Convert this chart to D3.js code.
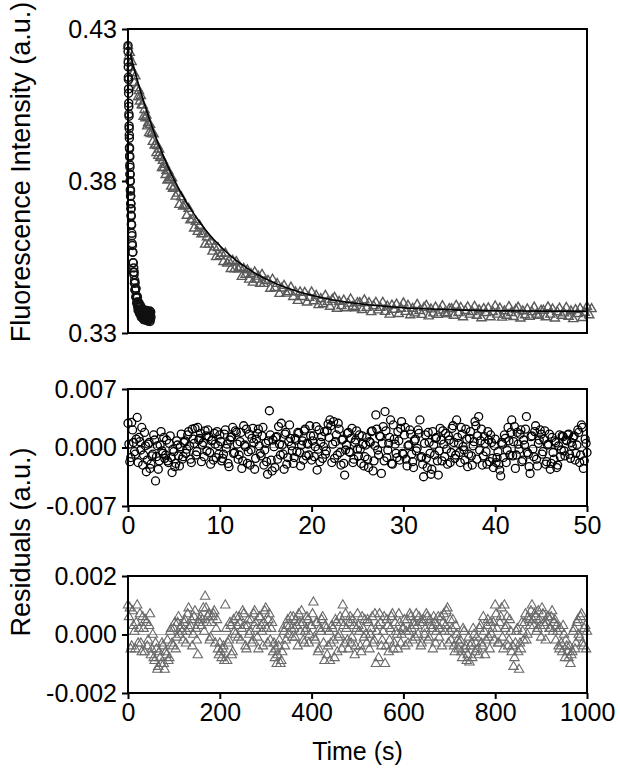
<!DOCTYPE html>
<html lang="en">
<head>
<meta charset="utf-8">
<title>Fluorescence decay with residuals</title>
<script src="https://d3js.org/d3.v7.min.js"></script>
<style>
  body { margin: 0; background: #fff; }
  svg text { font-family: "Liberation Sans", Arial, Helvetica, sans-serif; fill: #000; }
</style>
</head>
<body>
<div id="chart"></div>
<script>
// ---- values ----
// fast trace (circles), time in s
var fastTime = [0,0.2,0.4,0.6,0.8,1,1.2,1.4,1.6,1.8,2,2.2,2.4,2.6,2.8,3,3.2,3.4,3.6,3.8,
  4,4.2,4.4,4.6,4.8,5,5.2,5.4,5.6,5.8,6,6.2,6.4,6.6,6.8,7,7.4,7.8,8.2,8.6,9,9.5,10,
  10.5,11,11.5,12,12.5,13,13.5,14,14.5,15,15.5,16,16.5,17,17.5,18,18.5,19,19.5,20,
  20.5,21,21.5,22,22.5,23,23.5,24,24.5,25,25.5,26,26.5,27,27.5,28,28.5,29,29.5,30,
  30.5,31,31.5,32,32.5,33,33.5,34,34.5,35,35.5,36,36.5,37,37.5,38,38.5,39,39.5,40,
  40.5,41,41.5,42,42.5,43,43.5,44,44.5,45,45.5,46,46.5,47,47.5,48,48.5,49,49.5,50];
var fastSignal = [0.4245,0.4226,0.4191,0.4175,0.4141,0.4134,0.4103,0.4089,0.4056,0.4045,
  0.4020,0.4013,0.3981,0.3973,0.3951,0.3941,0.3910,0.3906,0.3883,0.3879,
  0.3853,0.3845,0.3823,0.3821,0.3801,0.3799,0.3772,0.3767,0.3751,0.3750,
  0.3725,0.3726,0.3709,0.3709,0.3687,0.3684,0.3658,0.3655,0.3628,0.3620,0.3594,0.3588,0.3566,
  0.3566,0.3531,0.3531,0.3500,0.3514,0.3491,0.3500,0.3464,0.3473,0.3442,
  0.3465,0.3441,0.3447,0.3419,0.3446,0.3416,0.3420,0.3398,0.3421,0.3402,
  0.3417,0.3387,0.3401,0.3375,0.3399,0.3386,0.3400,0.3374,0.3385,0.3365,
  0.3390,0.3371,0.3392,0.3361,0.3373,0.3362,0.3385,0.3352,0.3375,0.3364,
  0.3377,0.3351,0.3370,0.3356,0.3379,0.3352,0.3364,0.3344,0.3370,0.3356,
  0.3373,0.3348,0.3364,0.3343,0.3369,0.3357,0.3372,0.3345,0.3364,0.3349,
  0.3374,0.3353,0.3365,0.3342,0.3369,0.3350,0.3359,0.3339,0.3371,0.3346,
  0.3357,0.3343,0.3365,0.3350,0.3372,0.3338,0.3361,0.3345,0.3369,0.3353];

// slow trace (triangles)
var slowTime = [0,2,4,6,8,10,12,14,16,18,20,22,24,26,28,30,32,34,36,38,40,42,44,46,48,
  50,52,54,56,58,60,62,64,66,68,70,72,74,76,78,80,82,84,86,88,90,92,94,96,98,100,
  104,108,112,116,120,124,128,132,136,140,144,148,152,156,160,164,168,172,176,180,
  184,188,192,196,200,204,208,212,216,220,224,228,232,236,240,244,248,252,256,260,
  264,268,272,276,280,284,288,292,296,300,
  305,310,315,320,325,330,335,340,345,350,355,360,365,370,375,380,385,390,395,400,
  405,410,415,420,425,430,435,440,445,450,455,460,465,470,475,480,485,490,495,500,
  505,510,515,520,525,530,535,540,545,550,555,560,565,570,575,580,585,590,595,600,
  605,610,615,620,625,630,635,640,645,650,655,660,665,670,675,680,685,690,695,700,
  705,710,715,720,725,730,735,740,745,750,755,760,765,770,775,780,785,790,795,800,
  805,810,815,820,825,830,835,840,845,850,855,860,865,870,875,880,885,890,895,900,
  905,910,915,920,925,930,935,940,945,950,955,960,965,970,975,980,985,990,995,1000,
  1005,1010];
var slowSignal = [0.4244,0.4211,0.4222,0.4174,0.4192,0.4155,0.4156,0.4123,0.4145,0.4106,
  0.4106,0.4076,0.4096,0.4062,0.4080,0.4050,0.4049,0.4012,0.4034,0.4007,
  0.4016,0.3980,0.3991,0.3958,0.3985,0.3955,0.3959,0.3929,0.3954,0.3917,
  0.3920,0.3892,0.3915,0.3883,0.3904,0.3876,0.3878,0.3843,0.3867,0.3843,
  0.3854,0.3820,0.3834,0.3802,0.3832,0.3804,0.3811,0.3782,0.3809,0.3775,0.3779,
  0.3749,0.3759,0.3722,0.3747,0.3716,0.3718,0.3686,0.3709,0.3671,0.3673,
  0.3644,0.3666,0.3633,0.3653,0.3625,0.3626,0.3591,0.3615,0.3591,0.3601,
  0.3568,0.3582,0.3550,0.3580,0.3553,0.3561,0.3534,0.3562,0.3529,0.3536,
  0.3511,0.3538,0.3510,0.3534,0.3510,0.3515,0.3485,0.3512,0.3492,0.3507,
  0.3476,0.3494,0.3466,0.3500,0.3476,0.3486,0.3462,0.3492,0.3462,0.3471,
  0.3472,0.3446,0.3476,0.3449,0.3462,0.3429,0.3447,0.3456,0.3430,0.3435,
  0.3450,0.3419,0.3434,0.3406,0.3434,0.3419,0.3433,0.3401,0.3416,0.3434,
  0.3405,0.3423,0.3392,0.3412,0.3395,0.3423,0.3402,0.3387,0.3410,0.3416,
  0.3380,0.3403,0.3389,0.3407,0.3382,0.3397,0.3411,0.3387,0.3382,0.3399,
  0.3399,0.3376,0.3408,0.3383,0.3399,0.3369,0.3389,0.3400,0.3375,0.3383,
  0.3400,0.3370,0.3388,0.3361,0.3391,0.3377,0.3394,0.3363,0.3380,0.3398,
  0.3370,0.3390,0.3359,0.3380,0.3365,0.3393,0.3373,0.3360,0.3383,0.3390,
  0.3355,0.3378,0.3365,0.3384,0.3360,0.3374,0.3389,0.3366,0.3362,0.3379,
  0.3379,0.3357,0.3390,0.3366,0.3383,0.3352,0.3373,0.3385,0.3361,0.3369,
  0.3387,0.3357,0.3375,0.3349,0.3379,0.3366,0.3382,0.3352,0.3369,0.3388,
  0.3361,0.3381,0.3351,0.3372,0.3357,0.3386,0.3366,0.3353,0.3377,0.3384,
  0.3348,0.3372,0.3359,0.3378,0.3354,0.3369,0.3384,0.3361,0.3357,0.3374,
  0.3374,0.3352,0.3385,0.3361,0.3378,0.3348,0.3369,0.3381,0.3357,0.3365,
  0.3383,0.3354,0.3372,0.3346,0.3376,0.3363,0.3380,0.3350,0.3367,0.3386,
  0.3359,0.3379];

// fitted curve through the slow trace
var fitTime = [5,10,20,30,40,50,60,70,80,90,100,120,140,160,180,200,225,250,275,300,
  350,400,450,500,600,700,800,900,1000];
var fitSignal = [0.4218,0.4189,0.4133,0.4082,0.4034,0.3989,0.3947,0.3908,0.3872,0.3838,
  0.3806,0.3749,0.3700,0.3657,0.3619,0.3587,0.3552,0.3523,0.3498,0.3478,
  0.3446,0.3424,0.3408,0.3397,0.3383,0.3377,0.3373,0.3372,0.3371];

// residuals of the fast fit, in units of 1e-3 a.u. (even samples, then odd samples)
var fastResidTime = [0,0.2,0.4,0.6,0.8,1,1.2,1.4,1.6,1.8,2,2.2,2.4,2.6,2.8,3,3.2,3.4,3.6,3.8,
  4,4.2,4.4,4.6,4.8,5,5.2,5.4,5.6,5.8,6,6.2,6.4,6.6,6.8,7,7.2,7.4,7.6,7.8,
  8,8.2,8.4,8.6,8.8,9,9.2,9.4,9.6,9.8,10,10.2,10.4,10.6,10.8,11,11.2,11.4,11.6,11.8,
  12,12.2,12.4,12.6,12.8,13,13.2,13.4,13.6,13.8,14,14.2,14.4,14.6,14.8,15,15.2,15.4,15.6,15.8,
  16,16.2,16.4,16.6,16.8,17,17.2,17.4,17.6,17.8,18,18.2,18.4,18.6,18.8,19,19.2,19.4,19.6,19.8,
  20,20.2,20.4,20.6,20.8,21,21.2,21.4,21.6,21.8,22,22.2,22.4,22.6,22.8,23,23.2,23.4,23.6,23.8,
  24,24.2,24.4,24.6,24.8,25,25.2,25.4,25.6,25.8,26,26.2,26.4,26.6,26.8,27,27.2,27.4,27.6,27.8,
  28,28.2,28.4,28.6,28.8,29,29.2,29.4,29.6,29.8,30,30.2,30.4,30.6,30.8,31,31.2,31.4,31.6,31.8,
  32,32.2,32.4,32.6,32.8,33,33.2,33.4,33.6,33.8,34,34.2,34.4,34.6,34.8,35,35.2,35.4,35.6,35.8,
  36,36.2,36.4,36.6,36.8,37,37.2,37.4,37.6,37.8,38,38.2,38.4,38.6,38.8,39,39.2,39.4,39.6,39.8,
  40,40.2,40.4,40.6,40.8,41,41.2,41.4,41.6,41.8,42,42.2,42.4,42.6,42.8,43,43.2,43.4,43.6,43.8,
  44,44.2,44.4,44.6,44.8,45,45.2,45.4,45.6,45.8,46,46.2,46.4,46.6,46.8,47,47.2,47.4,47.6,47.8,
  48,48.2,48.4,48.6,48.8,49,49.2,49.4,49.6,49.8,50,
  0.1,0.3,0.5,0.7,0.9,1.1,1.3,1.5,1.7,1.9,2.1,2.3,2.5,2.7,2.9,3.1,3.3,3.5,3.7,3.9,
  4.1,4.3,4.5,4.7,4.9,5.1,5.3,5.5,5.7,5.9,6.1,6.3,6.5,6.7,6.9,7.1,7.3,7.5,7.7,7.9,
  8.1,8.3,8.5,8.7,8.9,9.1,9.3,9.5,9.7,9.9,10.1,10.3,10.5,10.7,10.9,11.1,11.3,11.5,11.7,11.9,
  12.1,12.3,12.5,12.7,12.9,13.1,13.3,13.5,13.7,13.9,14.1,14.3,14.5,14.7,14.9,15.1,15.3,15.5,15.7,15.9,
  16.1,16.3,16.5,16.7,16.9,17.1,17.3,17.5,17.7,17.9,18.1,18.3,18.5,18.7,18.9,19.1,19.3,19.5,19.7,19.9,
  20.1,20.3,20.5,20.7,20.9,21.1,21.3,21.5,21.7,21.9,22.1,22.3,22.5,22.7,22.9,23.1,23.3,23.5,23.7,23.9,
  24.1,24.3,24.5,24.7,24.9,25.1,25.3,25.5,25.7,25.9,26.1,26.3,26.5,26.7,26.9,27.1,27.3,27.5,27.7,27.9,
  28.1,28.3,28.5,28.7,28.9,29.1,29.3,29.5,29.7,29.9,30.1,30.3,30.5,30.7,30.9,31.1,31.3,31.5,31.7,31.9,
  32.1,32.3,32.5,32.7,32.9,33.1,33.3,33.5,33.7,33.9,34.1,34.3,34.5,34.7,34.9,35.1,35.3,35.5,35.7,35.9,
  36.1,36.3,36.5,36.7,36.9,37.1,37.3,37.5,37.7,37.9,38.1,38.3,38.5,38.7,38.9,39.1,39.3,39.5,39.7,39.9,
  40.1,40.3,40.5,40.7,40.9,41.1,41.3,41.5,41.7,41.9,42.1,42.3,42.5,42.7,42.9,43.1,43.3,43.5,43.7,43.9,
  44.1,44.3,44.5,44.7,44.9,45.1,45.3,45.5,45.7,45.9,46.1,46.3,46.5,46.7,46.9,47.1,47.3,47.5,47.7,47.9,
  48.1,48.3,48.5,48.7,48.9,49.1,49.3,49.5,49.7,49.9];
var fastResid = [2.9,-1.7,3.0,0.6,-0.8,3.6,1.2,-0.3,-2.1,1.8,
  -2.9,0.4,-2.5,-1.0,1.5,-4.0,0.2,-1.6,1.9,-0.7,
  -1.3,0.9,-1.8,1.4,-3.0,-0.5,-1.9,0.3,-2.2,1.6,
  -1.1,0.8,-0.2,1.9,-1.4,2.2,0.5,-0.9,2.4,1.1,
  -1.7,0.6,2.0,-0.4,1.3,-2.0,0.9,1.7,-1.2,0.2,
  1.5,-1.6,-0.8,2.1,0.4,-2.3,1.2,2.4,-0.6,1.8,
  -1.4,0.7,-2.5,2.6,0.1,-1.9,1.6,-0.3,2.3,-2.6,
  1.0,2.2,-0.7,1.4,-2.1,0.5,-3.2,4.4,-1.5,0.9,
  -2.4,1.3,2.5,-0.9,0.3,-2.6,1.8,-1.2,2.7,0.2,
  -1.9,1.1,-0.5,1.7,-2.2,0.8,2.0,-1.0,0.4,2.6,
  -1.5,1.4,0.1,-2.7,2.1,0.6,-1.3,1.9,-0.4,2.8,
  3.3,-1.8,3.1,0.7,-0.9,2.2,-2.1,1.0,-3.3,0.3,
  1.8,-0.6,2.3,-1.4,0.9,-0.2,1.5,-1.9,0.4,-1.1,
  1.2,-2.4,0.6,2.0,-1.6,3.9,-0.3,1.4,-3.1,2.5,
  4.3,-1.2,0.5,3.3,-2.0,1.0,-0.7,1.9,-1.5,3.1,
  -0.8,2.4,-2.2,0.3,1.6,-1.7,0.8,-0.4,2.1,3.3,
  -1.1,-3.5,1.5,-2.4,0.6,-3.2,1.9,-0.9,1.2,-3.3,
  2.3,-1.6,0.4,1.7,-2.0,0.9,-0.6,2.6,-1.3,3.3,
  0.5,-1.8,1.6,-0.3,2.2,-2.3,1.1,-1.0,0.2,3.1,
  -1.4,3.7,0.8,-2.1,1.3,-0.5,1.9,-1.7,0.6,-2.4,
  1.0,-1.2,-2.0,-3.4,0.4,1.5,-1.8,2.4,-0.9,3.3,
  0.7,-2.5,1.8,-0.2,2.1,-1.5,0.3,3.7,-0.8,-3.1,
  1.4,-1.1,2.6,-2.2,0.9,1.6,-0.5,2.0,-1.7,0.4,
  -2.6,1.2,-1.4,0.6,-2.1,1.5,-0.3,1.3,-1.0,0.8,
  1.6,-1.3,0.2,1.4,-0.7,2.1,-1.8,2.7,-2.5,1.0,
  -0.6,
  0.4,-1.2,2.1,-0.5,1.0,-1.8,0.7,2.4,-0.9,0.2,
  -1.5,0.6,-2.0,-0.8,0.9,-1.1,-2.6,0.3,-0.4,1.2,
  -0.9,-1.6,0.5,-1.2,-0.2,-2.3,0.8,-1.0,0.1,-1.4,
  0.6,-0.7,1.5,0.2,-1.8,1.0,2.3,-0.5,0.9,1.7,
  0.3,-1.1,1.4,2.1,-0.6,0.8,-1.5,0.4,1.9,-0.8,
  0.7,-1.3,1.6,-0.1,-1.9,0.9,1.3,-0.7,2.0,0.4,
  -0.9,1.8,-1.6,0.3,2.2,-0.5,-2.1,1.1,0.6,-1.3,
  1.7,0.2,-1.0,2.4,-0.3,-1.7,0.8,1.5,-2.8,0.1,
  1.2,-1.4,0.4,2.9,-0.8,1.6,-2.0,0.7,1.1,-0.4,
  -1.2,0.9,1.8,-0.6,0.3,-1.5,2.2,0.5,-0.9,1.4,
  0.8,-1.1,2.5,-0.2,-1.7,1.3,0.1,-0.8,2.0,1.2,
  2.6,0.4,-1.3,1.5,2.9,-0.6,0.9,-1.9,-0.3,1.7,
  -0.5,1.1,-1.8,0.6,2.0,-1.0,-0.2,1.4,-2.2,0.3,
  -1.4,0.7,1.9,-2.8,0.2,2.2,-0.9,1.3,0.5,-1.6,
  2.0,-0.3,1.2,-1.9,2.7,0.4,-1.2,0.8,2.3,-0.7,
  1.5,-1.4,0.2,2.1,-0.8,-2.4,1.0,-0.1,1.7,-1.2,
  -2.0,0.5,-1.3,1.8,-0.7,-2.6,0.3,1.1,-1.6,-0.4,
  0.9,2.0,-1.1,-0.2,1.4,-1.8,2.3,0.6,-0.9,1.2,
  -0.6,2.4,0.1,-1.5,1.0,-0.8,1.9,-2.1,0.7,2.6,
  1.4,-0.3,2.2,-1.0,0.5,-2.0,0.9,1.5,-1.3,0.2,
  -1.8,-0.5,-2.7,0.6,-1.2,1.1,-0.3,0.8,1.8,-1.0,
  2.5,-0.9,0.4,1.6,-1.7,0.9,2.2,-0.6,-2.3,1.3,
  -0.2,1.9,-1.4,0.5,2.1,-0.8,1.0,-2.0,0.3,1.6,
  -1.9,-0.6,0.8,-2.4,0.2,-1.1,1.4,-0.4,0.9,1.5,
  -0.8,0.6,1.2,-1.5,0.3,1.8,-0.9,2.4,-1.6,0.5];

// residuals of the slow fit, in units of 1e-3 a.u. (every 4 s, then the in-between samples)
var slowResidTime = [0,4,8,12,16,20,24,28,32,36,40,44,48,52,56,60,64,68,72,76,
  80,84,88,92,96,100,104,108,112,116,120,124,128,132,136,140,144,148,152,156,
  160,164,168,172,176,180,184,188,192,196,200,204,208,212,216,220,224,228,232,236,
  240,244,248,252,256,260,264,268,272,276,280,284,288,292,296,300,304,308,312,316,
  320,324,328,332,336,340,344,348,352,356,360,364,368,372,376,380,384,388,392,396,
  400,404,408,412,416,420,424,428,432,436,440,444,448,452,456,460,464,468,472,476,
  480,484,488,492,496,500,504,508,512,516,520,524,528,532,536,540,544,548,552,556,
  560,564,568,572,576,580,584,588,592,596,600,604,608,612,616,620,624,628,632,636,
  640,644,648,652,656,660,664,668,672,676,680,684,688,692,696,700,704,708,712,716,
  720,724,728,732,736,740,744,748,752,756,760,764,768,772,776,780,784,788,792,796,
  800,804,808,812,816,820,824,828,832,836,840,844,848,852,856,860,864,868,872,876,
  880,884,888,892,896,900,904,908,912,916,920,924,928,932,936,940,944,948,952,956,
  960,964,968,972,976,980,984,988,992,996,1000,
  2,6,10,14,18,22,26,30,34,38,42,46,50,54,58,62,66,70,74,78,
  82,86,90,94,98,102,106,110,114,118,122,126,130,134,138,142,146,150,154,158,
  162,166,170,174,178,182,186,190,194,198,202,206,210,214,218,222,226,230,234,238,
  242,246,250,254,258,262,266,270,274,278,282,286,290,294,298,302,306,310,314,318,
  322,326,330,334,338,342,346,350,354,358,362,366,370,374,378,382,386,390,394,398,
  402,406,410,414,418,422,426,430,434,438,442,446,450,454,458,462,466,470,474,478,
  482,486,490,494,498,502,506,510,514,518,522,526,530,534,538,542,546,550,554,558,
  562,566,570,574,578,582,586,590,594,598,602,606,610,614,618,622,626,630,634,638,
  642,646,650,654,658,662,666,670,674,678,682,686,690,694,698,702,706,710,714,718,
  722,726,730,734,738,742,746,750,754,758,762,766,770,774,778,782,786,790,794,798,
  802,806,810,814,818,822,826,830,834,838,842,846,850,854,858,862,866,870,874,878,
  882,886,890,894,898,902,906,910,914,918,922,926,930,934,938,942,946,950,954,958,
  962,966,970,974,978,982,986,990,994,998];
var slowResid = [1.0,0.9,-0.4,0.3,-0.5,1.0,0.2,-0.3,0.6,-0.6,
  0.4,-0.2,0.7,-0.5,-0.8,-0.3,-1.2,-0.6,-1.0,-0.4,
  -1.2,-0.7,-0.9,0.1,-0.3,0.2,-0.5,0.4,0.0,0.3,
  -0.2,0.5,0.1,0.9,0.3,-0.4,0.6,0.2,-0.7,0.5,
  0.3,0.9,1.3,0.4,0.7,-0.1,0.6,0.8,0.2,-0.5,
  -0.3,-0.8,-0.4,1.0,-0.9,-0.2,0.3,-0.6,0.1,0.6,
  -0.1,0.4,0.2,0.7,-0.4,0.3,0.0,0.5,-0.2,0.8,
  0.2,-0.5,0.6,0.1,0.4,0.9,-0.3,0.7,0.2,-0.6,
  -0.8,-1.0,-0.4,-1.0,-0.6,0.1,-0.2,0.5,0.3,0.2,
  0.6,-0.1,0.3,0.7,0.1,0.4,-0.3,0.2,0.5,0.0,
  0.3,1.1,-0.2,0.4,-0.5,0.1,0.6,-0.9,0.2,-0.4,
  -0.9,0.3,-0.2,0.5,-0.6,0.0,0.4,1.0,-0.3,0.2,
  -0.5,0.6,-0.1,0.3,-0.4,0.7,0.1,-0.6,0.2,0.5,
  -0.3,0.4,0.0,0.6,-0.2,-1.0,0.3,0.7,-0.4,0.1,
  -1.0,0.5,-0.6,0.2,0.7,-0.3,0.1,-0.5,0.4,0.0,
  0.2,-0.4,0.5,0.1,0.6,-0.2,0.3,0.7,0.0,0.4,
  -0.3,0.5,0.2,0.6,-0.1,0.3,-0.5,0.4,0.1,0.6,
  0.2,-0.4,0.7,0.3,0.9,0.1,-0.2,0.5,-0.6,0.0,
  -0.5,-0.2,-0.8,0.1,-0.4,-0.7,-0.95,-0.3,0.2,-0.6,
  -0.1,-0.7,0.3,-0.4,0.1,-0.2,0.5,-0.5,0.0,0.4,
  1.0,0.2,-0.3,0.6,-0.1,1.0,0.3,-0.4,0.5,-0.6,
  -1.1,-0.3,0.2,-1.2,-0.5,0.1,0.4,-0.2,0.6,0.3,
  1.0,0.3,0.6,0.2,0.5,-0.1,0.7,0.3,0.4,0.6,
  0.2,0.8,0.4,-0.2,0.1,-0.5,-0.3,0.3,-0.8,-0.4,
  -0.8,-1.0,-0.6,0.2,-0.3,0.5,-0.1,0.7,-0.4,0.3,
  0.1,
  0.6,-0.5,0.8,0.1,0.4,-0.3,0.7,-0.6,0.2,0.5,
  -0.4,0.3,-0.7,0.0,-0.9,-0.5,-1.1,-0.8,-0.3,-1.0,
  -0.6,-0.2,-0.8,0.2,-0.4,0.4,-0.1,0.6,0.2,0.1,
  0.4,-0.3,0.7,0.2,0.5,0.0,0.8,-0.2,0.4,0.6,
  0.5,0.1,0.9,0.6,-0.2,0.4,0.7,-0.3,0.5,-0.7,
  -0.6,-0.5,-0.9,0.2,-0.3,0.4,-0.7,0.5,0.0,0.3,
  0.6,-0.2,0.8,0.3,-0.5,0.5,0.1,-0.3,0.7,0.4,
  -0.1,0.6,0.3,-0.4,0.8,0.2,0.5,-0.2,0.4,-0.3,
  -0.5,-0.7,-0.2,-0.9,0.2,-0.4,0.3,0.0,0.6,-0.1,
  0.2,0.5,-0.4,0.4,0.8,-0.2,0.1,0.6,-0.3,0.3,
  0.7,-0.1,0.4,-0.6,0.2,0.5,-0.3,0.3,-0.7,0.1,
  -0.3,0.2,-0.8,0.4,-0.1,0.6,-0.5,0.3,0.7,-0.2,
  0.4,-0.3,0.5,-0.7,0.2,0.3,-0.4,0.6,-0.1,0.0,
  0.5,-0.5,0.2,-0.3,0.7,0.1,-0.8,0.4,-0.2,0.6,
  -0.4,0.3,-0.2,0.6,-0.5,0.4,0.0,0.7,-0.3,0.2,
  0.5,0.1,-0.3,0.7,0.2,0.4,-0.1,0.3,0.6,-0.4,
  0.4,0.0,0.7,-0.2,0.5,0.2,0.6,-0.3,0.3,-0.1,
  0.6,0.4,0.1,0.8,-0.3,0.5,0.2,-0.4,0.3,-0.2,
  -0.3,-0.6,0.2,-0.5,-0.9,-0.1,-0.4,-0.8,0.0,-0.3,
  -0.5,0.2,-0.3,0.6,-0.7,0.3,-0.1,0.4,0.2,-0.2,
  0.7,-0.3,0.4,0.9,-0.5,0.2,0.6,-0.2,0.1,-0.4,
  -0.8,0.1,-0.6,-0.3,0.4,-0.2,0.7,0.0,0.5,0.8,
  0.5,0.7,0.1,0.8,0.3,0.9,0.4,-0.2,0.6,0.2,
  0.6,0.1,0.5,0.3,-0.4,0.2,-0.6,0.0,-0.2,-0.6,
  -0.4,-0.7,0.1,-0.5,0.4,0.0,0.6,-0.3,0.2,-0.5];

// tick values
var topYTicks = [0.33, 0.38, 0.43];
var midYTicks = [-0.007, 0, 0.007];
var botYTicks = [-0.002, 0, 0.002];
var midXTicks = [0, 10, 20, 30, 40, 50];
var botXTicks = [0, 200, 400, 600, 800, 1000];

// ---- layout ----
var width = 620, height = 769;
var plotLeft = 128, plotRight = 587;

var svg = d3.select("#chart").append("svg")
    .attr("width", width)
    .attr("height", height)
    .style("background", "#fff");

function makePanel(top, bottom, xDomain, yDomain) {
  return {
    top: top, bottom: bottom,
    x: d3.scaleLinear().domain(xDomain).range([plotLeft, plotRight]),
    y: d3.scaleLinear().domain(yDomain).range([bottom, top])
  };
}

var pTop = makePanel(29, 333, [0, 1000], [0.33, 0.43]);
var pMid = makePanel(389, 506, [0, 50], [-0.007, 0.007]);
var pBot = makePanel(576, 693, [0, 1000], [-0.002, 0.002]);

function styleAxis(g) {
  g.select(".domain").remove();
  g.selectAll(".tick line").attr("stroke", "#000").attr("stroke-width", 2);
  g.selectAll(".tick text").style("font-size", "25px").attr("fill", "#000");
}

function drawYAxis(p, ticks, digits) {
  svg.append("g")
      .attr("transform", "translate(" + plotLeft + ",0)")
      .call(d3.axisLeft(p.y).tickValues(ticks).tickSize(6).tickPadding(5)
        .tickFormat(function(d) { return d.toFixed(digits); }))
      .call(styleAxis);
}

function drawXAxis(p, ticks) {
  svg.append("g")
      .attr("transform", "translate(0," + p.bottom + ")")
      .call(d3.axisBottom(p.x).tickValues(ticks).tickSize(6).tickPadding(4)
        .tickFormat(function(d) { return d; }))
      .call(styleAxis);
}

function drawFrame(p) {
  svg.append("rect")
      .attr("x", plotLeft)
      .attr("y", p.top)
      .attr("width", plotRight - plotLeft)
      .attr("height", p.bottom - p.top)
      .attr("fill", "none")
      .attr("stroke", "#000")
      .attr("stroke-width", 2);
}

function drawZero(p) {
  svg.append("line")
      .attr("x1", plotLeft).attr("x2", plotRight)
      .attr("y1", p.y(0)).attr("y2", p.y(0))
      .attr("stroke", "#aaa")
      .attr("stroke-width", 1);
}

function drawCircles(p, xs, ys, scale, color, width) {
  svg.append("g")
    .selectAll("circle")
    .data(d3.zip(xs, ys))
    .join("circle")
      .attr("cx", function(d) { return p.x(d[0]); })
      .attr("cy", function(d) { return p.y(d[1] * scale); })
      .attr("r", 4)
      .attr("fill", "none")
      .attr("stroke", color)
      .attr("stroke-width", width);
}

function drawTriangles(p, xs, ys, scale, color, size, width) {
  var tri = d3.symbol().type(d3.symbolTriangle).size(size);
  svg.append("g")
    .selectAll("path")
    .data(d3.zip(xs, ys))
    .join("path")
      .attr("d", tri)
      .attr("transform", function(d) {
        return "translate(" + p.x(d[0]) + "," + p.y(d[1] * scale) + ")";
      })
      .attr("fill", "none")
      .attr("stroke", color)
      .attr("stroke-width", width);
}

// top panel
drawTriangles(pTop, slowTime, slowSignal, 1, "#5a5a5a", 36, 1.4);
drawCircles(pTop, fastTime, fastSignal, 1, "#111", 1.5);

var fitLine = d3.line()
    .curve(d3.curveMonotoneX)
    .x(function(d) { return pTop.x(d[0]); })
    .y(function(d) { return pTop.y(d[1]); });

svg.append("path")
    .datum(d3.zip(fitTime, fitSignal))
    .attr("d", fitLine)
    .attr("fill", "none")
    .attr("stroke", "#000")
    .attr("stroke-width", 1.6);

drawFrame(pTop);
drawYAxis(pTop, topYTicks, 2);

// middle panel: fast residuals
drawZero(pMid);
drawCircles(pMid, fastResidTime, fastResid, 1e-3, "#000", 1.3);
drawFrame(pMid);
drawYAxis(pMid, midYTicks, 3);
drawXAxis(pMid, midXTicks);

// bottom panel: slow residuals
drawZero(pBot);
drawTriangles(pBot, slowResidTime, slowResid, 1e-3, "#6a6a6a", 38, 1.1);
drawFrame(pBot);
drawYAxis(pBot, botYTicks, 3);
drawXAxis(pBot, botXTicks);

// axis titles
svg.append("text")
    .attr("transform", "translate(30,172) rotate(-90)")
    .attr("text-anchor", "middle")
    .style("font-size", "27px")
    .text("Fluorescence Intensity (a.u.)");

svg.append("text")
    .attr("transform", "translate(30,542) rotate(-90)")
    .attr("text-anchor", "middle")
    .style("font-size", "27px")
    .text("Residuals (a.u.)");

svg.append("text")
    .attr("x", (plotLeft + plotRight) / 2)
    .attr("y", 760)
    .attr("text-anchor", "middle")
    .style("font-size", "25px")
    .text("Time (s)");
</script>
</body>
</html>
